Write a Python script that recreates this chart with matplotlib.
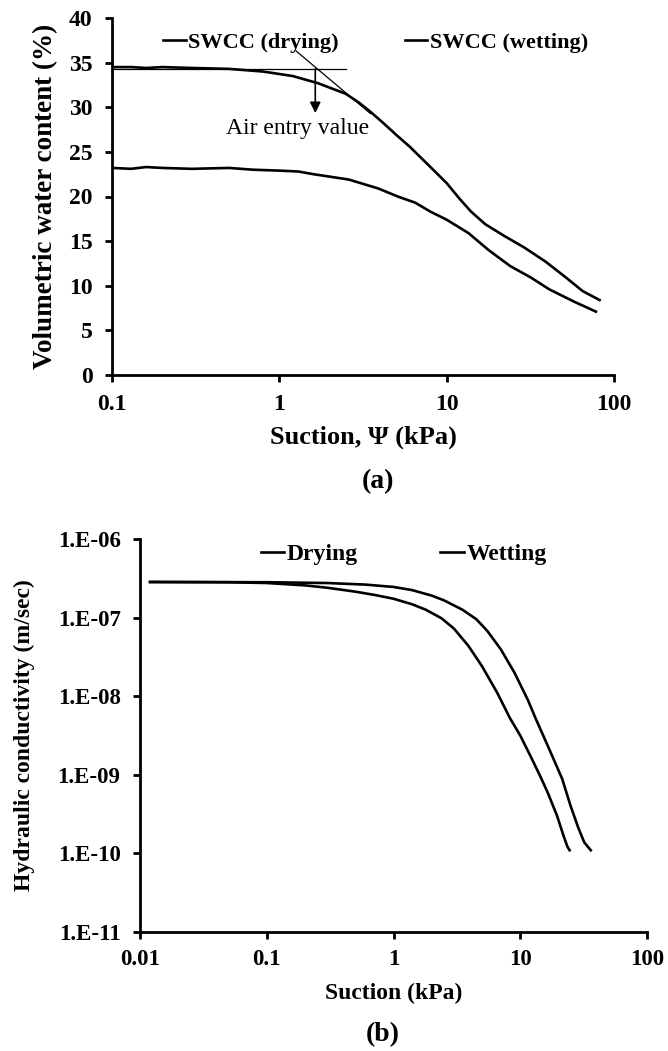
import matplotlib
matplotlib.use("Agg")
import matplotlib.pyplot as plt
import numpy as np
from matplotlib.ticker import FixedLocator, FixedFormatter, NullLocator

plt.rcParams['font.family'] = ['Liberation Serif', 'DejaVu Serif']
plt.rcParams['font.weight'] = 'bold'

# ---------------- data: (a) SWCC ----------------
dry_suction = [0.1, 0.13, 0.16, 0.2, 0.3, 0.5, 0.8, 1.2, 1.7, 2.5, 3.0, 3.5, 4.2, 5.0, 6.0,
               8.0, 10.0, 12.0, 14.0, 17.0, 22.0, 29.0, 39.0, 51.0, 65.0, 82.0]
dry_theta = [34.5, 34.5, 34.4, 34.5, 34.4, 34.3, 34.0, 33.5, 32.7, 31.5, 30.5, 29.5, 28.2, 26.9, 25.6,
             23.3, 21.5, 19.7, 18.3, 16.9, 15.6, 14.3, 12.7, 11.0, 9.4, 8.4]
wet_suction = [0.1, 0.13, 0.16, 0.2, 0.3, 0.5, 0.7, 1.0, 1.3, 1.6, 2.6, 3.9, 5.1, 6.5,
               8.0, 10.0, 13.5, 17.8, 24.0, 32.0, 41.0, 58.0, 78.0]
wet_theta = [23.2, 23.1, 23.3, 23.2, 23.1, 23.2, 23.0, 22.9, 22.8, 22.5, 21.9, 20.9, 20.0, 19.3,
             18.3, 17.4, 15.9, 14.0, 12.2, 10.9, 9.6, 8.2, 7.1]
swcc_labels = ["SWCC (drying)", "SWCC (wetting)"]
a_xticks = [0.1, 1, 10, 100]
a_xticklabels = ["0.1", "1", "10", "100"]
a_yticks = [0, 5, 10, 15, 20, 25, 30, 35, 40]

# air entry construction
aev_hline_x = [0.1, 2.5]
aev_hline_y = [34.3, 34.3]
aev_tan_x = [1.26, 3.5]
aev_tan_y = [36.3, 29.3]
aev_x = 1.64
aev_arrow_y = [34.3, 29.35]

# ---------------- data: (b) HCF (log10 of k in m/sec) ----------------
kdry_suction = [0.012, 0.05, 0.1, 0.2, 0.3, 0.5, 0.7, 1.0, 1.4, 1.8, 2.4, 3.0, 3.9, 5.0,
                6.6, 8.3, 10.0, 12.2, 14.5, 16.6, 19.5, 22.0, 23.5, 24.5]
kdry_log10 = [-6.547, -6.55, -6.56, -6.59, -6.62, -6.67, -6.71, -6.76, -6.83, -6.90, -7.01,
              -7.14, -7.36, -7.62, -7.96, -8.28, -8.50, -8.78, -9.03, -9.24, -9.52, -9.78,
              -9.91, -9.96]
kwet_suction = [0.012, 0.1, 0.3, 0.6, 1.0, 1.4, 2.0, 2.5, 3.5, 4.5, 5.5, 7.0, 9.0, 11.5,
                13.2, 17.0, 21.4, 25.0, 28.8, 32.0, 36.0]
kwet_log10 = [-6.547, -6.55, -6.56, -6.58, -6.61, -6.65, -6.72, -6.78, -6.90, -7.02, -7.17,
              -7.40, -7.70, -8.05, -8.28, -8.68, -9.05, -9.40, -9.68, -9.86, -9.96]
hcf_labels = ["Drying", "Wetting"]
b_xticks = [0.01, 0.1, 1, 10, 100]
b_xticklabels = ["0.01", "0.1", "1", "10", "100"]
b_yticks = [1e-11, 1e-10, 1e-9, 1e-8, 1e-7, 1e-6]
b_yticklabels = ["1.E-11", "1.E-10", "1.E-09", "1.E-08", "1.E-07", "1.E-06"]

W, H = 668, 1051
fig = plt.figure(figsize=(W / 100, H / 100), dpi=100)


def style(ax, fs):
    for s in ("top", "right"):
        ax.spines[s].set_visible(False)
    for s in ("left", "bottom"):
        ax.spines[s].set_linewidth(2.0)
    ax.tick_params(axis="both", which="major", direction="out", length=5, width=2,
                   labelsize=fs, pad=9)
    ax.xaxis.set_minor_locator(NullLocator())
    ax.yaxis.set_minor_locator(NullLocator())
    for lab in ax.get_xticklabels() + ax.get_yticklabels():
        lab.set_fontweight("bold")


# ---------------- panel (a) ----------------
ax1 = fig.add_axes([112 / W, 1 - 375 / H, (614 - 112) / W, (375 - 18) / H])
ax1.set_xscale("log")
l1, = ax1.plot(dry_suction, dry_theta, color="black", lw=1.9, label=swcc_labels[0])
l2, = ax1.plot(wet_suction, wet_theta, color="black", lw=1.9, label=swcc_labels[1])
ax1.plot(aev_hline_x, aev_hline_y, color="black", lw=0.9)
ax1.plot(aev_tan_x, aev_tan_y, color="black", lw=0.9)
ax1.annotate("", xy=(aev_x, aev_arrow_y[1]), xytext=(aev_x, aev_arrow_y[0]),
             arrowprops=dict(arrowstyle="-|>", color="black", lw=1.2,
                             mutation_scale=16, shrinkA=0, shrinkB=0))
ax1.text(1.29, 27.6, "Air entry value", ha="center", va="center", fontsize=17,
         fontweight="normal")
ax1.set_xlim(0.1, 100)
ax1.set_ylim(0, 40)
ax1.xaxis.set_major_locator(FixedLocator(a_xticks))
ax1.xaxis.set_major_formatter(FixedFormatter(a_xticklabels))
ax1.yaxis.set_major_locator(FixedLocator(a_yticks))
style(ax1, 17)
ax1.set_xlabel("Suction, \u03a8 (kPa)", fontsize=19, fontweight="bold")
ax1.set_ylabel("Volumetric water content (%)", fontsize=19.5, fontweight="bold")
ax1.xaxis.label.set_va("center")
ax1.yaxis.label.set_va("center")
ax1.xaxis.set_label_coords(0.5, (375 - 437) / 357)
ax1.yaxis.set_label_coords((46 - 112) / 502, 0.5)
ax1.legend(handles=[l1, l2], ncol=2, loc="center", bbox_to_anchor=(0.525, 0.93),
           frameon=False, handlelength=1.0, handletextpad=0.1,
           columnspacing=3.0, prop=dict(weight="bold", size=16))

# ---------------- panel (b) ----------------
ax2 = fig.add_axes([140 / W, 1 - 932 / H, (647 - 140) / W, (932 - 539) / H])
ax2.set_xscale("log")
ax2.set_yscale("log")
m1, = ax2.plot(kdry_suction, 10.0 ** np.array(kdry_log10), color="black", lw=1.9,
               label=hcf_labels[0])
m2, = ax2.plot(kwet_suction, 10.0 ** np.array(kwet_log10), color="black", lw=1.9,
               label=hcf_labels[1])
ax2.set_xlim(0.01, 100)
ax2.set_ylim(1e-11, 1e-6)
ax2.xaxis.set_major_locator(FixedLocator(b_xticks))
ax2.xaxis.set_major_formatter(FixedFormatter(b_xticklabels))
ax2.yaxis.set_major_locator(FixedLocator(b_yticks))
ax2.yaxis.set_major_formatter(FixedFormatter(b_yticklabels))
style(ax2, 16.5)
ax2.tick_params(axis="x", pad=7)
ax2.set_xlabel("Suction (kPa)", fontsize=17, fontweight="bold")
ax2.set_ylabel("Hydraulic conductivity (m/sec)", fontsize=17, fontweight="bold")
ax2.xaxis.label.set_va("center")
ax2.yaxis.label.set_va("center")
ax2.xaxis.set_label_coords(0.5, (932 - 993) / 393)
ax2.yaxis.set_label_coords((24 - 140) / 507, 0.5)
ax2.legend(handles=[m1, m2], ncol=2, loc="center", bbox_to_anchor=(0.52, 0.96),
           frameon=False, handlelength=1.0, handletextpad=0.1,
           columnspacing=3.5, prop=dict(weight="bold", size=17))

fig.text(378 / W, 1 - 482 / H, "(a)", ha="center", va="center", fontsize=20,
         fontweight="bold")
fig.text(383 / W, 1 - 1035 / H, "(b)", ha="center", va="center", fontsize=20,
         fontweight="bold")

fig.savefig("out.png", dpi=100)
